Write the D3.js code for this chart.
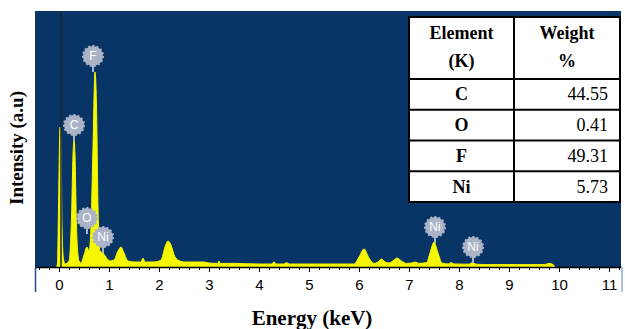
<!DOCTYPE html>
<html>
<head>
<meta charset="utf-8">
<script src="https://cdn.jsdelivr.net/npm/d3@7"></script>
<style>
    body { margin: 0; background: #fff; }
    svg { display: block; }
    .serif { font-family: "Liberation Serif", "DejaVu Serif", serif; }
    .sans { font-family: "Liberation Sans", Arial, sans-serif; }
</style>
</head>
<body>
<svg id="chart"></svg>
<script>
// spectrum: energy (keV) and counts (arbitrary)
const energy = [-0.05, -0.03, -0.01, 0.02, 0.04, 0.06, 0.09, 0.12, 0.2, 0.25, 0.28, 0.30, 0.32, 0.35, 0.4, 0.44,
    0.5, 0.56, 0.6, 0.64, 0.68, 0.72, 0.75, 0.78, 0.82, 0.88, 0.95, 1.02, 1.1, 1.18, 1.24, 1.3, 1.38, 1.5,
    1.64, 1.68, 1.72, 1.9, 2.04, 2.12, 2.18, 2.24, 2.32, 2.42, 2.5, 2.9, 3.0, 3.18, 3.2, 3.22, 3.5, 4.0,
    4.25, 4.3, 4.35, 4.5, 4.55, 4.6, 5.0, 5.5, 5.9, 6.0, 6.1, 6.2, 6.3, 6.38, 6.45, 6.52, 6.6, 6.7, 6.76,
    6.85, 6.95, 7.05, 7.12, 7.2, 7.35, 7.42, 7.5, 7.58, 7.66, 7.8, 7.84, 7.9, 8.2, 8.27, 8.34, 8.6, 8.9,
    9.1, 9.4, 9.7, 9.8, 9.88, 9.92];
const counts = [0, 20, 300, 700, 650, 200, 40, 15, 30, 250, 560, 635, 560, 200, 30, 20,
    60, 100, 80, 200, 600, 975, 800, 300, 80, 70, 45, 30, 35, 80, 100, 70, 30, 25,
    25, 45, 25, 25, 35, 100, 130, 110, 50, 30, 25, 25, 20, 18, 30, 18, 18, 15,
    15, 25, 15, 15, 22, 15, 15, 15, 15, 50, 90, 45, 18, 25, 40, 25, 20, 35, 45,
    30, 18, 20, 25, 18, 22, 70, 125, 70, 20, 15, 22, 15, 14, 22, 14, 12, 12,
    12, 12, 12, 18, 12, 0];

// peak markers
const peakNames = ["C", "F", "O", "Ni", "Ni", "Ni"];
const peakEnergy = [0.30, 0.68, 0.56, 0.88, 7.52, 8.28];
const peakLevel = [710, 1055, 245, 150, 200, 100];

// table
const tableHead = [["Element", "(K)"], ["Weight", "%"]];
const tableElems = ["C", "O", "F", "Ni"];
const tableWeight = ["44.55", "0.41", "49.31", "5.73"];

const majorTicks = [0, 1, 2, 3, 4, 5, 6, 7, 8, 9, 10, 11];

const W = 625, H = 329;
const plot = {left: 35, right: 621, top: 11, bottom: 267};

const svg = d3.select("#chart").attr("width", W).attr("height", H);

const x = d3.scaleLinear().domain([-0.48, 11.24]).range([plot.left, plot.right]);
const y = d3.scaleLinear().domain([0, 1280]).range([plot.bottom, plot.top]);

// background
svg.append("rect")
    .attr("x", plot.left).attr("y", plot.top)
    .attr("width", plot.right - plot.left).attr("height", plot.bottom - plot.top)
    .attr("fill", "#083566");

const data = energy.map((e, i) => ({e: e, c: counts[i]}));

const area = d3.area()
    .x(d => x(d.e))
    .y0(y(0))
    .y1(d => y(d.c))
    .curve(d3.curveMonotoneX);

svg.append("path")
    .datum(data)
    .attr("d", area)
    .attr("fill", "#f7f700")
    .attr("stroke", "#f7f700")
    .attr("stroke-width", 1);

// dark marker line near zero
svg.append("line")
    .attr("x1", x(0.04)).attr("x2", x(0.04))
    .attr("y1", plot.top).attr("y2", plot.bottom)
    .attr("stroke", "#1b2433").attr("stroke-width", 1.5);

// peak labels
const marks = svg.append("g").selectAll("g")
    .data(peakNames.map((n, i) => ({n: n, e: peakEnergy[i], c: peakLevel[i]})))
    .join("g")
    .attr("transform", d => `translate(${x(d.e)},${y(d.c)})`);

marks.append("line")
    .attr("y1", 8).attr("y2", 16)
    .attr("stroke", "#aab4c6").attr("stroke-width", 2);
marks.append("circle")
    .attr("r", 10)
    .attr("fill", "#aab4c6")
    .attr("stroke", "#aab4c6")
    .attr("stroke-width", 2)
    .attr("stroke-dasharray", "2,2.2");
marks.append("text")
    .attr("class", "sans")
    .attr("text-anchor", "middle")
    .attr("dy", "0.36em")
    .attr("fill", "#fff")
    .style("font-size", "12px")
    .text(d => d.n);

// x axis
const minorTicks = d3.range(-4, 57).map(i => i / 5).filter(v => x(v) >= plot.left && x(v) <= plot.right);

svg.append("rect")
    .attr("x", plot.left).attr("y", plot.bottom)
    .attr("width", plot.right - plot.left).attr("height", 26)
    .attr("fill", "#fff");

const xMinor = svg.append("g")
    .attr("transform", `translate(0,${plot.bottom})`)
    .call(d3.axisBottom(x).tickValues(minorTicks).tickSize(3).tickSizeOuter(0).tickFormat(""));
xMinor.select(".domain").attr("stroke", "#000").attr("stroke-width", 1.5);

const xMajor = svg.append("g")
    .attr("transform", `translate(0,${plot.bottom})`)
    .call(d3.axisBottom(x).tickValues(majorTicks).tickSize(5).tickPadding(7).tickSizeOuter(0));
xMajor.select(".domain").remove();
xMajor.attr("font-family", null).attr("font-size", null);
xMajor.selectAll("text")
    .attr("class", "sans")
    .style("font-size", "15px")
    .attr("fill", "#000");

// side frame lines under the plot
svg.append("line")
    .attr("x1", plot.left + 0.5).attr("x2", plot.left + 0.5)
    .attr("y1", plot.bottom).attr("y2", 292)
    .attr("stroke", "#1f4a8a").attr("stroke-width", 1.5);
svg.append("line")
    .attr("x1", plot.right + 1).attr("x2", plot.right + 1)
    .attr("y1", plot.bottom).attr("y2", 292)
    .attr("stroke", "#8fb0d8").attr("stroke-width", 1.5);

// axis titles
svg.append("text")
    .attr("class", "serif")
    .attr("x", 312).attr("y", 325)
    .attr("text-anchor", "middle")
    .style("font-weight", "bold")
    .style("font-size", "21px")
    .text("Energy (keV)");

svg.append("text")
    .attr("class", "serif")
    .attr("transform", "translate(23,148) rotate(-90)")
    .attr("text-anchor", "middle")
    .style("font-weight", "bold")
    .style("font-size", "19px")
    .text("Intensity (a.u)");

// composition table
const tb = {left: 409, mid: 514, right: 620, top: 17, head: 79, rowH: 30.75};
const table = svg.append("g");
const tBottom = tb.head + tb.rowH * tableElems.length;

table.append("rect")
    .attr("x", tb.left).attr("y", tb.top)
    .attr("width", tb.right - tb.left).attr("height", tBottom - tb.top)
    .attr("fill", "#fff").attr("stroke", "#000").attr("stroke-width", 2);
table.append("line")
    .attr("x1", tb.mid).attr("x2", tb.mid)
    .attr("y1", tb.top).attr("y2", tBottom)
    .attr("stroke", "#000").attr("stroke-width", 2);
tableElems.forEach((el, i) => {
    table.append("line")
        .attr("x1", tb.left).attr("x2", tb.right)
        .attr("y1", tb.head + i * tb.rowH).attr("y2", tb.head + i * tb.rowH)
        .attr("stroke", "#000").attr("stroke-width", 2);
});

tableHead.forEach((lines, c) => {
    const cx = c === 0 ? (tb.left + tb.mid) / 2 : (tb.mid + tb.right) / 2;
    lines.forEach((t, j) => {
        table.append("text")
            .attr("class", "serif")
            .attr("x", cx).attr("y", 39 + j * 28)
            .attr("text-anchor", "middle")
            .style("font-weight", "bold")
            .style("font-size", "18px")
            .text(t);
    });
});

table.selectAll(".elem")
    .data(tableElems)
    .join("text")
    .attr("class", "elem serif")
    .attr("x", (tb.left + tb.mid) / 2)
    .attr("y", (d, i) => tb.head + i * tb.rowH + tb.rowH / 2 + 6)
    .attr("text-anchor", "middle")
    .style("font-weight", "bold")
    .style("font-size", "18px")
    .text(d => d);

table.selectAll(".wt")
    .data(tableWeight)
    .join("text")
    .attr("class", "wt serif")
    .attr("x", tb.right - 12)
    .attr("y", (d, i) => tb.head + i * tb.rowH + tb.rowH / 2 + 6)
    .attr("text-anchor", "end")
    .style("font-size", "18px")
    .text(d => d);
</script>
</body>
</html>
